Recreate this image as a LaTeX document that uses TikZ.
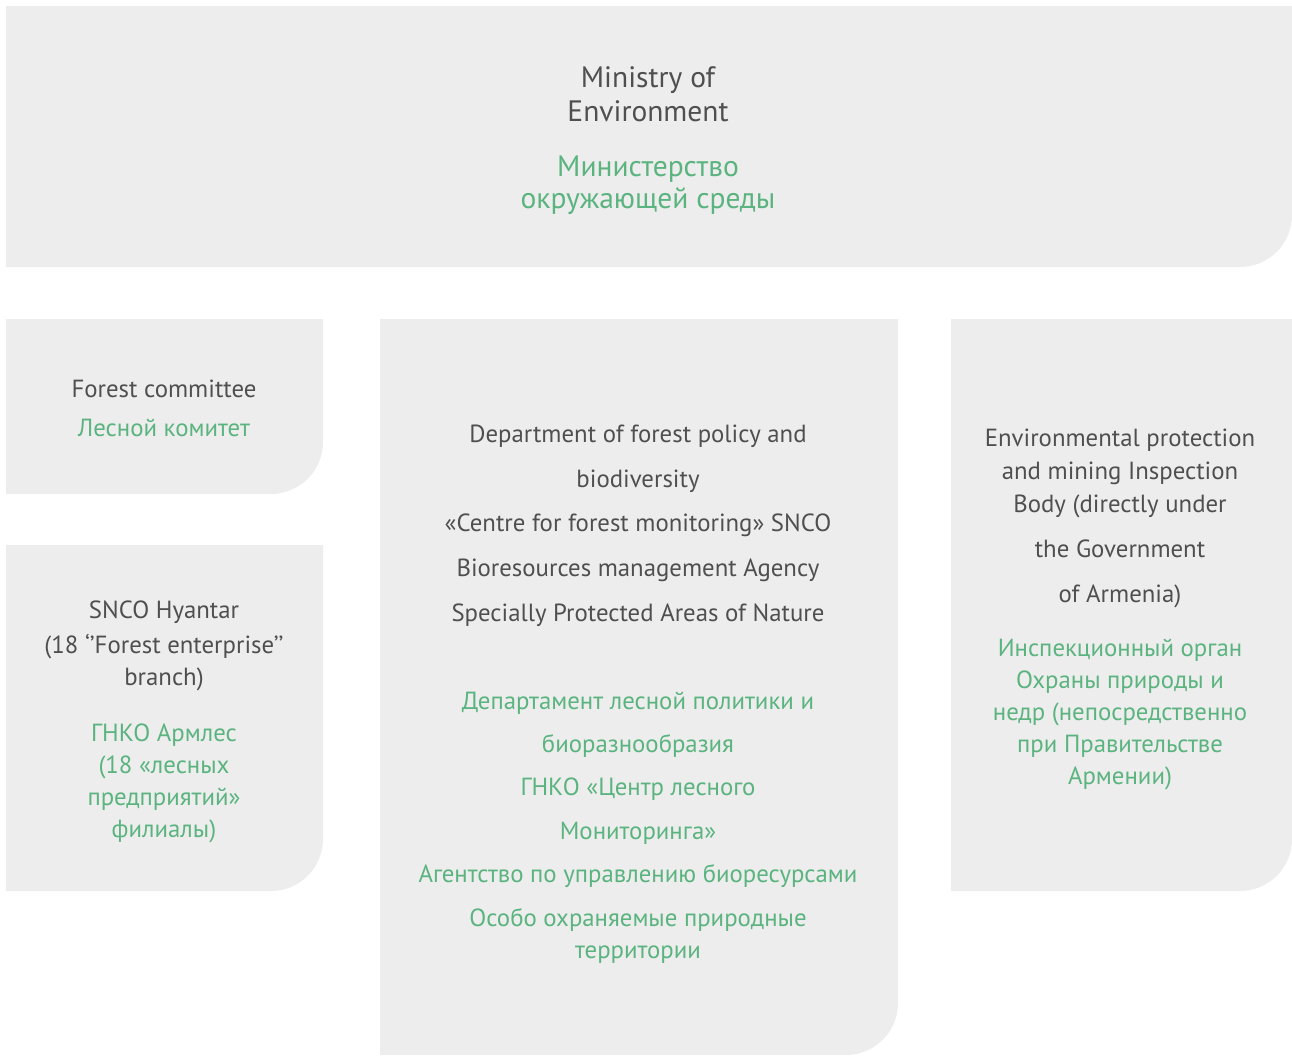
\documentclass[tikz,border=0pt]{standalone}
\usepackage{fontspec}
\setmainfont{PT Sans}
\definecolor{boxgrey}{HTML}{EDEDED}
\definecolor{txtgrey}{HTML}{4F4F4F}
\definecolor{txtgreen}{HTML}{5BB47F}
\begin{document}
\begin{tikzpicture}[x=1pt,y=-1pt,
  panel/.style={fill=boxgrey, draw=none},
  en/.style={anchor=base, inner sep=0pt, text=txtgrey, font=\fontsize{24.8}{30}\selectfont},
  ru/.style={anchor=base, inner sep=0pt, text=txtgreen, font=\fontsize{24.8}{30}\selectfont},
  big/.style={font=\fontsize{29.5}{35}\selectfont}]
\useasboundingbox (0,0) rectangle (1292,1055);
% panels
\fill[panel] (6,6) -- (1292,6) [rounded corners=52pt] -- (1292,267) [sharp corners] -- (6,267) -- cycle;
\fill[panel] (6,319) -- (323,319) [rounded corners=52pt] -- (323,494) [sharp corners] -- (6,494) -- cycle;
\fill[panel] (6,545) -- (323,545) [rounded corners=52pt] -- (323,891) [sharp corners] -- (6,891) -- cycle;
\fill[panel] (380,319) -- (898,319) [rounded corners=52pt] -- (898,1055) [sharp corners] -- (380,1055) -- cycle;
\fill[panel] (951,319) -- (1292,319) [rounded corners=52pt] -- (1292,891) [sharp corners] -- (951,891) -- cycle;
% top
\node[en,big] (m1) at (648,87) {Ministry of};
\node[en,big] (m2) at (648,121) {Environment};
\node[ru,big] (m3) at (648,176) {Министерство};
\node[ru,big] (m4) at (648,208) {окружающей среды};
% forest committee
\node[en] (f1) at (164,397) {Forest committee};
\node[ru] (f2) at (164,436) {Лесной комитет};
% hyantar
\node[en] (h1) at (164,618) {SNCO Hyantar};
\node[en] (h2) at (164,653) {(18 ‘’Forest enterprise’’};
\node[en] (h3) at (164,685) {branch)};
\node[ru] (h4) at (164,741) {ГНКО Армлес};
\node[ru] (h5) at (164,773) {(18 «лесных};
\node[ru] (h6) at (164,805) {предприятий»};
\node[ru] (h7) at (164,837) {филиалы)};
% middle
\node[en] (d1) at (638,442) {Department of forest policy and};
\node[en] (d2) at (638,487) {biodiversity};
\node[en] (d3) at (638,531) {«Centre for forest monitoring» SNCO};
\node[en] (d4) at (638,576) {Bioresources management Agency};
\node[en] (d5) at (638,621) {Specially Protected Areas of Nature};
\node[ru] (r1) at (638,709) {Департамент лесной политики и};
\node[ru] (r2) at (638,752) {биоразнообразия};
\node[ru] (r3) at (638,795) {ГНКО «Центр лесного};
\node[ru] (r4) at (638,839) {Мониторинга»};
\node[ru] (r5) at (638,882) {Агентство по управлению биоресурсами};
\node[ru] (r6) at (638,926) {Особо охраняемые природные};
\node[ru] (r7) at (638,958) {территории};
% right
\node[en] (e1) at (1120,446) {Environmental protection};
\node[en] (e2) at (1120,479) {and mining Inspection};
\node[en] (e3) at (1120,512) {Body (directly under};
\node[en] (e4) at (1120,557) {the Government};
\node[en] (e5) at (1120,602) {of Armenia)};
\node[ru] (i1) at (1120,656) {Инспекционный орган};
\node[ru] (i2) at (1120,688) {Охраны природы и};
\node[ru] (i3) at (1120,720) {недр (непосредственно};
\node[ru] (i4) at (1120,752) {при Правительстве};
\node[ru] (i5) at (1120,784) {Армении)};
\end{tikzpicture}
\end{document}
